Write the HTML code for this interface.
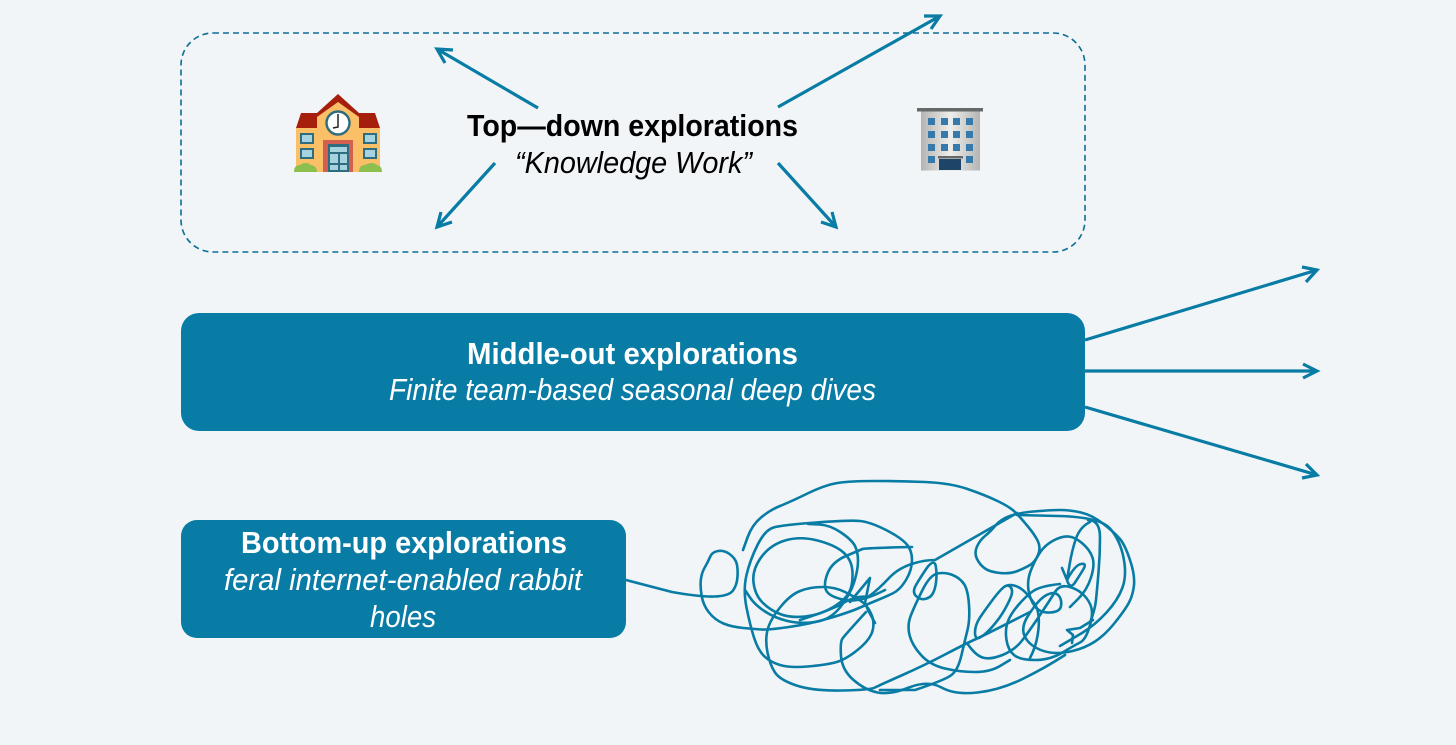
<!DOCTYPE html>
<html><head><meta charset="utf-8"><style>
html,body{margin:0;padding:0;background:#f1f5f7;width:1456px;height:745px;overflow:hidden}
svg{display:block}
text{font-family:"Liberation Sans",sans-serif;text-anchor:start}
.b{font-weight:bold;font-size:31px}
.i{font-style:italic;font-size:31px}
.w{fill:#fff}
.s{fill:none;stroke:#087ca4;stroke-width:2.6;stroke-linejoin:round;stroke-linecap:round}
.a{fill:none;stroke:#087ca4;stroke-width:3.2;stroke-linejoin:miter}
</style></head><body>
<svg width="1456" height="745" viewBox="0 0 1456 745" xmlns="http://www.w3.org/2000/svg">
<rect width="1456" height="745" fill="#f1f5f7"/>
<rect x="181" y="33" width="904" height="219" rx="32" fill="none" stroke="#0b6f95" stroke-width="1.6" stroke-dasharray="6 4"/>
<rect x="181" y="313" width="904" height="118" rx="18" fill="#087ca4"/>
<rect x="181" y="520" width="445" height="118" rx="16" fill="#087ca4"/>

<g>
<path class="a" d="M538 108L437 49M453 50L437 49L445 63"/>
<path class="a" d="M778 107L940 16M924 16L940 16L931 29"/>
<path class="a" d="M495 163L437 227M452 222L437 227L441 212"/>
<path class="a" d="M778 163L836 227M832 212L836 227L821 222"/>
<path class="a" d="M1085 340L1317 270M1302 267L1317 270L1306 282"/>
<path class="a" d="M1085 371L1317 371M1303 364L1317 371L1303 378"/>
<path class="a" d="M1085 407L1317 475M1306 464L1317 475L1302 478"/>
</g>

<text class="b" x="467" y="136" textLength="331" lengthAdjust="spacingAndGlyphs" fill="#000">Top—down explorations</text>
<text class="i" x="515" y="173" textLength="237" lengthAdjust="spacingAndGlyphs" fill="#000">“Knowledge Work”</text>
<text class="b w" x="467" y="364" textLength="331" lengthAdjust="spacingAndGlyphs">Middle-out explorations</text>
<text class="i w" x="389" y="400" textLength="487" lengthAdjust="spacingAndGlyphs">Finite team-based seasonal deep dives</text>
<text class="b w" x="241" y="553" textLength="326" lengthAdjust="spacingAndGlyphs">Bottom-up explorations</text>
<text class="i w" x="224" y="590" textLength="358" lengthAdjust="spacingAndGlyphs">feral internet-enabled rabbit</text>
<text class="i w" x="370" y="627" textLength="66" lengthAdjust="spacingAndGlyphs">holes</text>

<!-- school -->
<g>
<rect x="296" y="128" width="84" height="44" fill="#fbbf67"/>
<path d="M317 117L338 100L359 117V172H317Z" fill="#fbbf67"/>
<path d="M296 128L301 113H317L338 94L359 113H375L380 128H359V117L338 102L317 117V128Z" fill="#a61f0c"/>
<circle cx="338" cy="123" r="11.5" fill="#fff" stroke="#2e6d80" stroke-width="2.4"/>
<path d="M338 114V127L333 128" fill="none" stroke="#222" stroke-width="1.5"/>
<rect x="323" y="140" width="30" height="32" fill="#d3604f"/>
<rect x="328" y="144" width="21" height="28" fill="#2e6d80"/>
<rect x="330" y="147" width="17" height="5" fill="#a5d3df"/><rect x="330" y="154" width="8" height="9" fill="#a5d3df"/><rect x="340" y="154" width="7" height="9" fill="#a5d3df"/><rect x="330" y="165" width="8" height="5" fill="#a5d3df"/><rect x="340" y="165" width="7" height="5" fill="#a5d3df"/>
<rect x="301" y="134" width="12" height="9" fill="#a5d3df" stroke="#2e6d80" stroke-width="2"/>
<rect x="301" y="149" width="12" height="9" fill="#a5d3df" stroke="#2e6d80" stroke-width="2"/>
<rect x="364" y="134" width="12" height="9" fill="#a5d3df" stroke="#2e6d80" stroke-width="2"/>
<rect x="364" y="149" width="12" height="9" fill="#a5d3df" stroke="#2e6d80" stroke-width="2"/>
<path d="M294 172Q294 165 300 165Q306 161 311 165Q317 166 317 172Z" fill="#8cbf4d"/>
<path d="M359 172Q359 165 365 165Q372 161 377 165Q382 166 382 172Z" fill="#8cbf4d"/>
</g>
<!-- office -->
<g>
<defs><linearGradient id="g" x1="0" x2="1" y1="0" y2="0"><stop offset="0" stop-color="#b4b4b2"/><stop offset=".5" stop-color="#eeeeec"/><stop offset="1" stop-color="#b4b4b2"/></linearGradient></defs>
<rect x="921" y="110" width="59" height="60.5" fill="url(#g)"/>
<rect x="917" y="108" width="66" height="3.5" fill="#66696a"/>
<g fill="#3679ab">
<rect x="928" y="118" width="7" height="7"/><rect x="941" y="118" width="7" height="7"/><rect x="953" y="118" width="7" height="7"/><rect x="966" y="118" width="7" height="7"/>
<rect x="928" y="131" width="7" height="7"/><rect x="941" y="131" width="7" height="7"/><rect x="953" y="131" width="7" height="7"/><rect x="966" y="131" width="7" height="7"/>
<rect x="928" y="144" width="7" height="7"/><rect x="941" y="144" width="7" height="7"/><rect x="953" y="144" width="7" height="7"/><rect x="966" y="144" width="7" height="7"/>
<rect x="928" y="156" width="7" height="7"/><rect x="966" y="156" width="7" height="7"/>
</g>
<rect x="938" y="156" width="25" height="2.5" fill="#66696a"/>
<rect x="939" y="159" width="22" height="11" fill="#1d4568"/>
</g>

<!-- scribble -->
<g>
<path class="s" d="M626 580L672 592Q700 597 714.5 596.5Q729 596 733 590.5Q737 585 737.5 576.5Q738 568 736.5 563Q735 558 729.5 554Q724 550 718 551Q712 552 710 557Q708 562 705 567Q702 572 701 578.5Q700 585 701.5 595Q703 605 709 612.5Q715 620 723.5 623.5Q732 627 743.5 628Q755 629 761.5 629.5Q768 630 789 627Q810 624 830 618Q850 612 859 608Q868 604 876.5 600.5Q885 597 892.5 593.5Q900 590 906 580Q912 570 912 560Q912 550 906 543.5Q900 537 885 529.5Q870 522 860 521Q850 520 816 522.5Q782 525 773.5 527.5Q765 530 757.5 545Q750 560 746.5 575Q743 590 746.5 607.5Q750 625 754 637.5Q758 650 764 656Q770 662 780 665Q790 668 807.5 666.5Q825 665 835 662.5Q845 660 857.5 650Q870 640 872.5 631Q875 622 871 613.5Q867 605 861 601Q855 597 845 592Q835 587 822.5 587Q810 587 800 591Q790 595 780 607.5Q770 620 767.5 630Q765 640 767.5 652.5Q770 665 775 672.5Q780 680 796.5 685.5Q813 691 841.5 690.5Q870 690 875 687.5Q880 685 902.5 675Q925 665 946 654Q967 643 976 639Q985 635 1030 612"/>
<path class="s" d="M743 550L747.5 537.5Q752 525 761 517.5Q770 510 780 506Q790 502 807.5 493.5Q825 485 837.5 483Q850 481 875 481Q900 481 925 482Q950 483 967.5 489Q985 495 997.5 501Q1010 507 1015 512Q1020 517 1027.5 526Q1035 535 1038 541.5Q1041 548 1038 555Q1035 562 1030 565Q1025 568 1017.5 571Q1010 574 1000 573Q990 572 985 568.5Q980 565 977 559Q974 553 977 546.5Q980 540 985 536Q990 532 995 526Q1000 520 1008.5 516.5Q1017 513 1033.5 511.5Q1050 510 1060 510Q1070 510 1081 512.5Q1092 515 1103.5 524Q1115 533 1120 539Q1125 545 1130 560Q1135 575 1134 585Q1133 595 1129 602.5Q1125 610 1115 622.5Q1105 635 1095 641.5Q1085 648 1072.5 651Q1060 654 1050 652.5Q1040 651 1032.5 645.5Q1025 640 1023.5 632.5Q1022 625 1028.5 615Q1035 605 1040 600Q1045 595 1050.5 593.5Q1056 592 1059 596Q1062 600 1061 606Q1060 612 1050 612.5Q1040 613 1035 606.5Q1030 600 1028.5 590Q1027 580 1031 570Q1035 560 1040 552.5Q1045 545 1053.5 540.5Q1062 536 1068.5 536.5Q1075 537 1082.5 543.5Q1090 550 1092.5 557.5Q1095 565 1091 577.5Q1087 590 1078.5 598.5L1070 607"/>
<path class="s" d="M761 557.5Q770 545 785 540.5Q800 536 817.5 540.5Q835 545 843.5 552.5Q852 560 852.5 572.5Q853 585 849 592.5Q845 600 832.5 607.5Q820 615 805 616.5Q790 618 780 614Q770 610 762.5 602.5Q755 595 753.5 582.5Q752 570 761 557.5Z"/>
<path class="s" d="M808 524L819 524.5Q830 525 841 532.5Q852 540 855 546Q858 552 858 561Q858 570 854 582.5Q850 595 840 607.5Q830 620 815 622Q800 624 787.5 621Q775 618 765 611.5Q755 605 750 597.5L745 590"/>
<path class="s" d="M885 590Q860 603 845 600Q830 597 826.5 591Q823 585 827.5 573.5Q832 562 846 556Q860 550 862.5 549Q865 548 912 547"/>
<path class="s" d="M850 602L870 578L865 603L868 610L875 623"/>
<path class="s" d="M866 612Q845 635 842.5 638.5Q840 642 841 656Q842 670 853.5 680Q865 690 877.5 692.5Q890 695 909 687.5Q928 680 941.5 687.5Q955 695 977.5 692.5Q1000 690 1022.5 679Q1045 668 1065 655"/>
<path class="s" d="M800 620Q825 612 840 605Q855 595 868 597Q878 590 890 577Q900 567 915 563Q925 560 935 560Q975 537 1017 513"/>
<path class="s" d="M1017 515L1058 516Q1100 517 1110 528.5Q1120 540 1123.5 557.5Q1127 575 1122.5 587.5Q1118 600 1106.5 612.5Q1095 625 1082 633L1060 646"/>
<path class="s" d="M1093 620L1080 628L1067 630L1073 635L1072 643"/>
<path class="s" d="M927.5 567Q935 558 936 567.5Q937 575 936 582.5Q935 590 932.5 594Q930 598 925 599Q920 600 916 596Q912 592 916 585Q920 578 927.5 567Z"/>
<path class="s" d="M880 690L915 690Q945 680 951.5 675Q958 670 961.5 655Q965 640 967.5 630Q970 620 969 605Q968 590 964 584Q960 578 952.5 575Q945 572 937.5 573.5Q930 575 922.5 590Q915 605 911 615Q907 625 909.5 635Q912 645 921 655Q930 665 945 668.5Q960 672 975 672Q990 672 1000 666L1010 660"/>
<path class="s" d="M1004 587Q1008 584 1010.5 587Q1013 590 1011.5 595Q1010 600 1005 609Q1000 618 992.5 626.5Q985 635 980 637.5Q975 640 975 632.5Q975 625 980 617.5Q985 610 992.5 600Q1000 590 1004 587Q1008 584 1014 585.5Q1020 587 1025 592Q1030 597 1035 604.5Q1040 612 1038.5 628.5Q1037 645 1030 658"/>
<path class="s" d="M1060 584Q1040 586 1032.5 591.5Q1025 597 1017.5 606Q1010 615 1007.5 622.5Q1005 630 1006.5 640Q1008 650 1014 655Q1020 660 1035 660Q1050 660 1062.5 652.5Q1075 645 1080 642.5Q1085 640 1088.5 630Q1092 620 1092 612.5Q1092 605 1086 597.5Q1080 590 1070 587Q1060 584 1055 592Q1050 600 1040 615Q1030 630 1022.5 640Q1015 650 1002.5 655Q990 660 982.5 657.5Q975 655 967 643"/>
<path class="s" d="M1088 520Q1100 520 1100 537.5Q1100 555 1098.5 572.5Q1097 590 1096 600Q1095 610 1090 622.5"/>
<path class="s" d="M1090 522Q1080 527 1076 538.5Q1072 550 1069.5 565L1067 580L1062 568M1067 580Q1070 590 1075 582.5Q1080 575 1083.5 569Q1087 563 1081 564Q1075 565 1067 580"/>
</g>
</svg>
</body></html>
